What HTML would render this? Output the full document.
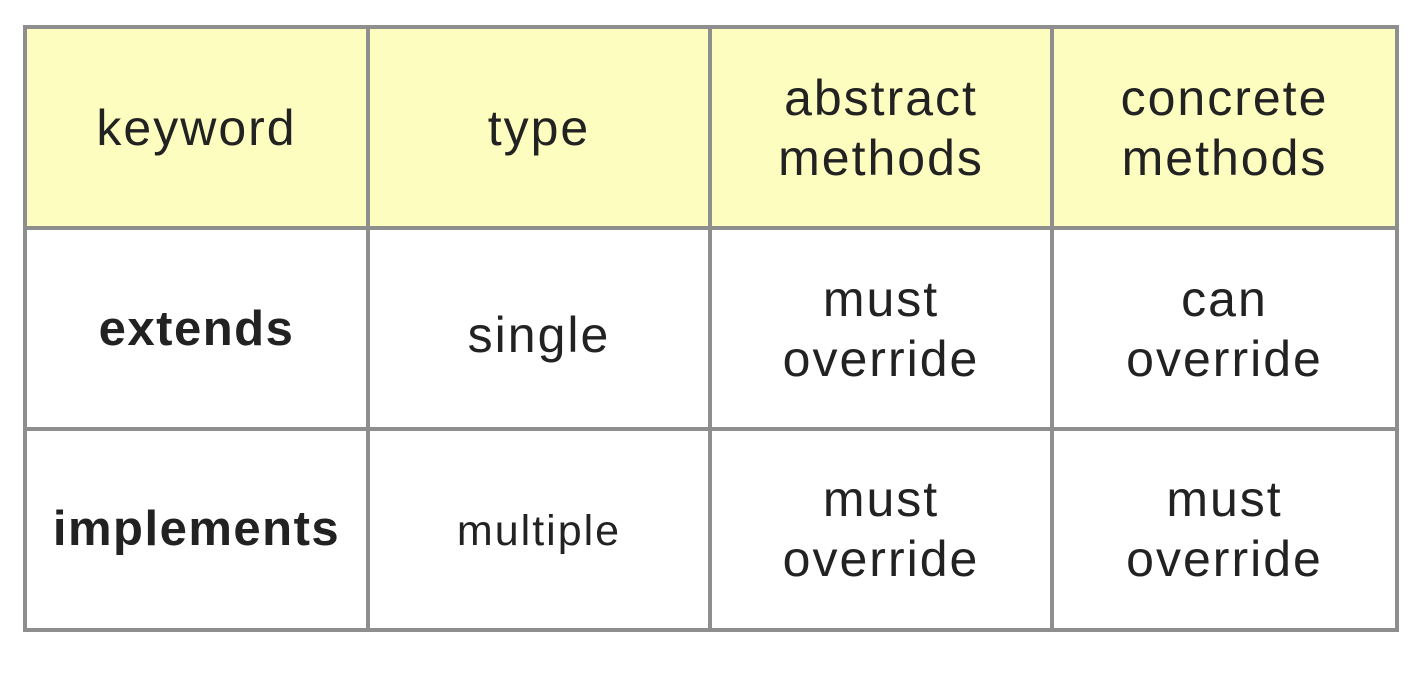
<!DOCTYPE html>
<html><head><meta charset="utf-8"><style>
html,body{margin:0;padding:0;background:#fff;width:1421px;height:675px;overflow:hidden}
.l{position:absolute;background:#8e8e8e}
.c{position:absolute;display:flex;align-items:center;justify-content:center;text-align:center;font-family:"Liberation Sans",sans-serif;font-size:50px;letter-spacing:2px;line-height:60px;color:#222}
.h{background:#fdfdc0}
.b{font-weight:bold;letter-spacing:1.5px;font-size:49px}
</style></head><body>
<div class="c h" style="left:27px;top:29px;width:339px;height:197px">keyword</div>
<div class="c h" style="left:370px;top:29px;width:338px;height:197px">type</div>
<div class="c h" style="left:712px;top:29px;width:338px;height:197px">abstract<br>methods</div>
<div class="c h" style="left:1054px;top:29px;width:341px;height:197px">concrete<br>methods</div>

<div class="c b" style="left:27px;top:230px;width:339px;height:198px">extends</div>
<div class="c" style="left:370px;top:236px;width:338px;height:198px">single</div>
<div class="c" style="left:712px;top:230px;width:338px;height:198px">must<br>override</div>
<div class="c" style="left:1054px;top:230px;width:341px;height:198px">can<br>override</div>

<div class="c b" style="left:27px;top:430px;width:339px;height:198px">implements</div>
<div class="c" style="left:370px;top:432px;width:338px;height:198px;font-size:43px">multiple</div>
<div class="c" style="left:712px;top:430px;width:338px;height:198px">must<br>override</div>
<div class="c" style="left:1054px;top:430px;width:341px;height:198px">must<br>override</div>

<div class="l" style="left:23px;top:25px;width:1376px;height:4px"></div>
<div class="l" style="left:23px;top:226px;width:1376px;height:4px"></div>
<div class="l" style="left:23px;top:427px;width:1376px;height:4px"></div>
<div class="l" style="left:23px;top:628px;width:1376px;height:4px"></div>
<div class="l" style="left:23px;top:25px;width:4px;height:607px"></div>
<div class="l" style="left:366px;top:25px;width:4px;height:607px"></div>
<div class="l" style="left:708px;top:25px;width:4px;height:607px"></div>
<div class="l" style="left:1050px;top:25px;width:4px;height:607px"></div>
<div class="l" style="left:1395px;top:25px;width:4px;height:607px"></div>
</body></html>
